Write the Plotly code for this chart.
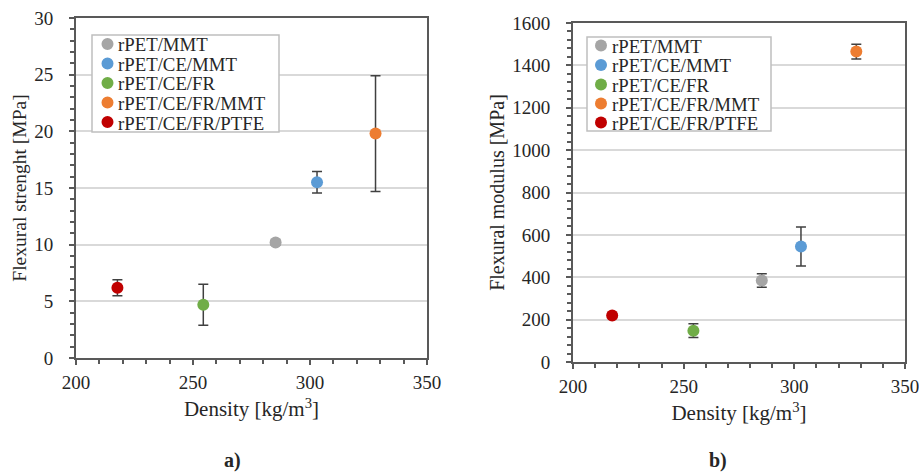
import plotly.graph_objects as go

series = ["rPET/MMT", "rPET/CE/MMT", "rPET/CE/FR", "rPET/CE/FR/MMT", "rPET/CE/FR/PTFE"]
colors = ["#A5A5A5", "#5B9BD5", "#70AD47", "#ED7D31", "#C00000"]
density = [285.3, 303.0, 254.4, 328.0, 217.7]
strength = [10.2, 15.5, 4.7, 19.8, 6.2]
strength_err = [0.2, 0.95, 1.8, 5.1, 0.7]
modulus = [385, 545, 148, 1465, 220]
modulus_err = [32, 92, 32, 35, 10]

W, H = 919, 472
FONT = "Liberation Serif, Times New Roman, serif"
AX = "#595959"
TXT = "#262626"


def px(x):
    return x / W


def py(y):
    return 1 - y / H


fig = go.Figure()
for i, name in enumerate(series):
    fig.add_trace(go.Scatter(
        x=[density[i]], y=[strength[i]], mode="markers", name=name,
        marker=dict(color=colors[i], size=12),
        error_y=dict(type="data", array=[strength_err[i]], color="#404040", thickness=1.5, width=5),
        xaxis="x", yaxis="y", showlegend=False))
for i, name in enumerate(series):
    fig.add_trace(go.Scatter(
        x=[density[i]], y=[modulus[i]], mode="markers", name=name,
        marker=dict(color=colors[i], size=12),
        error_y=dict(type="data", array=[modulus_err[i]], color="#404040", thickness=1.5, width=5),
        xaxis="x2", yaxis="y2", showlegend=False))

xcommon = dict(range=[200, 350], dtick=50, showline=True, linecolor=AX, linewidth=2, mirror=True,
               ticks="outside", ticklen=5, tickcolor=AX, tickwidth=1.5, showgrid=False, zeroline=False,
               automargin=False, ticklabelstandoff=1, ticklabeloverflow="allow",
               tickfont=dict(family=FONT, size=19, color=TXT),
               minor=dict(dtick=10, ticks="outside", ticklen=4, tickcolor=AX),
               title=dict(text="Density [kg/m<sup>3</sup>]", font=dict(family=FONT, size=21, color=TXT), standoff=10))
ycommon = dict(showline=True, linecolor=AX, linewidth=2, mirror=True,
               ticks="outside", ticklen=5, tickcolor=AX, tickwidth=1.5, showgrid=True, gridcolor="#D9D9D9", gridwidth=1.5,
               zeroline=False, automargin=False, ticklabelstandoff=12, ticklabeloverflow="allow",
               tickfont=dict(family=FONT, size=19, color=TXT))

fig.update_layout(
    width=W, height=H, margin=dict(l=0, r=0, t=0, b=0),
    paper_bgcolor="white", plot_bgcolor="white",
    xaxis=dict(domain=[px(76), px(427)], anchor="y", **xcommon),
    yaxis=dict(domain=[py(358), py(18)], anchor="x", range=[0, 30], dtick=5,
               minor=dict(dtick=1, ticks="outside", ticklen=4, tickcolor=AX),
               title=dict(text="Flexural strenght [MPa]", font=dict(family=FONT, size=19.5, color=TXT), standoff=2),
               **ycommon),
    xaxis2=dict(domain=[px(573), px(905)], anchor="y2", **xcommon),
    yaxis2=dict(domain=[py(362), py(23)], anchor="x2", range=[0, 1600], dtick=200,
                minor=dict(dtick=40, ticks="outside", ticklen=4, tickcolor=AX),
                title=dict(text="Flexural modulus [MPa]", font=dict(family=FONT, size=20, color=TXT), standoff=2),
                **ycommon),
)

# legend boxes (drawn as shapes + text so the entries sit as tightly as in the reference)
legends = [
    dict(box=(92, 35, 279, 132), cx=107.5, tx=116, ys=[44, 63.5, 83, 102.5, 122]),
    dict(box=(587, 37, 771, 131), cx=601, tx=610, ys=[45.5, 65, 84.5, 103.5, 122.5]),
]
shapes = []
annotations = []
for lg in legends:
    x0, y0, x1, y1 = lg["box"]
    shapes.append(dict(type="rect", xref="paper", yref="paper", x0=px(x0), x1=px(x1), y0=py(y1), y1=py(y0),
                       line=dict(color="#BFBFBF", width=1.5), fillcolor="white", layer="above"))
    for i, name in enumerate(series):
        cy = lg["ys"][i]
        r = 6
        shapes.append(dict(type="circle", xref="paper", yref="paper",
                           x0=px(lg["cx"] - r), x1=px(lg["cx"] + r), y0=py(cy + r), y1=py(cy - r),
                           line=dict(width=0), fillcolor=colors[i], layer="above"))
        annotations.append(dict(text=name, x=px(lg["tx"]), y=py(cy + 1), xref="paper", yref="paper",
                                xanchor="left", yanchor="middle", showarrow=False,
                                font=dict(family=FONT, size=18.8, color=TXT)))

annotations.append(dict(text="<b>a)</b>", x=px(232), y=py(460), xref="paper", yref="paper", showarrow=False,
                        xanchor="center", yanchor="middle", borderpad=0, font=dict(family=FONT, size=20, color=TXT)))
annotations.append(dict(text="<b>b)</b>", x=px(718), y=py(460), xref="paper", yref="paper", showarrow=False,
                        xanchor="center", yanchor="middle", borderpad=0, font=dict(family=FONT, size=20, color=TXT)))

fig.update_layout(shapes=shapes, annotations=annotations)
fig.write_html("out.html")
